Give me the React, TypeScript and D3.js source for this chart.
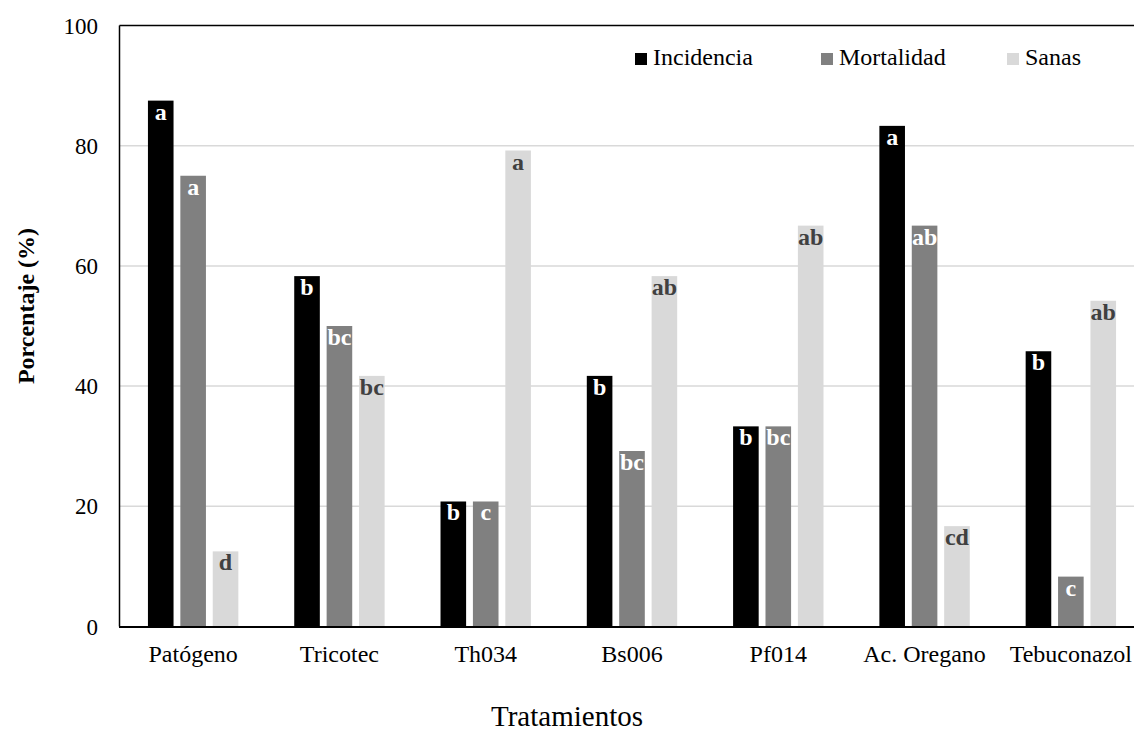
import React from "react";
import * as d3 from "d3";

const categories = ["Patógeno", "Tricotec", "Th034", "Bs006", "Pf014", "Ac. Oregano", "Tebuconazol"];
const seriesNames = ["Incidencia", "Mortalidad", "Sanas"];
const incidencia = [87.5, 58.3, 20.8, 41.7, 33.3, 83.3, 45.8];
const mortalidad = [75, 50, 20.8, 29.2, 33.3, 66.7, 8.3];
const sanas = [12.5, 41.7, 79.2, 58.3, 66.7, 16.7, 54.2];
const letrasIncidencia = ["a", "b", "b", "b", "b", "a", "b"];
const letrasMortalidad = ["a", "bc", "c", "bc", "bc", "ab", "c"];
const letrasSanas = ["d", "bc", "a", "ab", "ab", "cd", "ab"];
const yTicks = [0, 20, 40, 60, 80, 100];

const colors = ["#000000", "#808080", "#d9d9d9"];
const labelColors = ["#ffffff", "#ffffff", "#404040"];
const FONT = "'Liberation Serif', 'Times New Roman', Times, serif";

export default function App() {
  const W = 1134, H = 731;
  const left = 120, right = 1144, top = 25.5, bottom = 626.5;
  const x = d3.scaleBand<string>().domain(categories).range([left, right]).paddingInner(0).paddingOuter(0);
  const xs = d3.scaleBand<string>().domain(seriesNames).range([-45.2, 45.2]).paddingInner(0.21).paddingOuter(0);
  const y = d3.scaleLinear().domain([0, 100]).range([bottom, top]);
  const values = [incidencia, mortalidad, sanas];
  const letters = [letrasIncidencia, letrasMortalidad, letrasSanas];
  const legendX = [635, 821, 1007];

  return (
    <svg width={W} height={H} style={{ position: "absolute", left: 0, top: 0, background: "#fff", fontFamily: FONT }}>
      <rect x={0} y={0} width={W} height={H} fill="#fff" />
      {yTicks.filter(t => t > 0 && t < 100).map(t => (
        <line key={t} x1={left} x2={right} y1={y(t)} y2={y(t)} stroke="#d9d9d9" strokeWidth={1.5} />
      ))}
      {categories.map((c, i) => (
        <g key={c}>
          {seriesNames.map((s, j) => {
            const bx = (x(c) as number) + x.bandwidth() / 2 + (xs(s) as number);
            const by = y(values[j][i]);
            return (
              <g key={s}>
                <rect x={bx} y={by} width={xs.bandwidth()} height={bottom - by} fill={colors[j]} />
                <text x={bx + xs.bandwidth() / 2} y={by + 19} textAnchor="middle" fontWeight="bold" fontSize={24} fill={labelColors[j]}>
                  {letters[j][i]}
                </text>
              </g>
            );
          })}
          <text x={(x(c) as number) + x.bandwidth() / 2} y={662} textAnchor="middle" fontSize={24} fill="#000">{c}</text>
        </g>
      ))}
      <line x1={left - 0.5} x2={right} y1={top} y2={top} stroke="#000" strokeWidth={1.5} />
      <line x1={left - 0.5} x2={left - 0.5} y1={top} y2={bottom} stroke="#000" strokeWidth={1.5} />
      <line x1={left - 1} x2={right} y1={bottom + 0.5} y2={bottom + 0.5} stroke="#000" strokeWidth={2} />
      {yTicks.map(t => (
        <text key={t} x={98} y={y(t)} dy="0.35em" textAnchor="end" fontSize={23} fill="#000">{t}</text>
      ))}
      {seriesNames.map((s, j) => (
        <g key={s}>
          <rect x={legendX[j]} y={53} width={12} height={12} fill={colors[j]} />
          <text x={legendX[j] + 18} y={65} fontSize={24} fill="#000">{s}</text>
        </g>
      ))}
      <text x={567} y={726} textAnchor="middle" fontSize={29} fill="#000">Tratamientos</text>
      <text transform="translate(34,306) rotate(-90)" textAnchor="middle" fontSize={24} fontWeight="bold" fill="#000">Porcentaje (%)</text>
    </svg>
  );
}
